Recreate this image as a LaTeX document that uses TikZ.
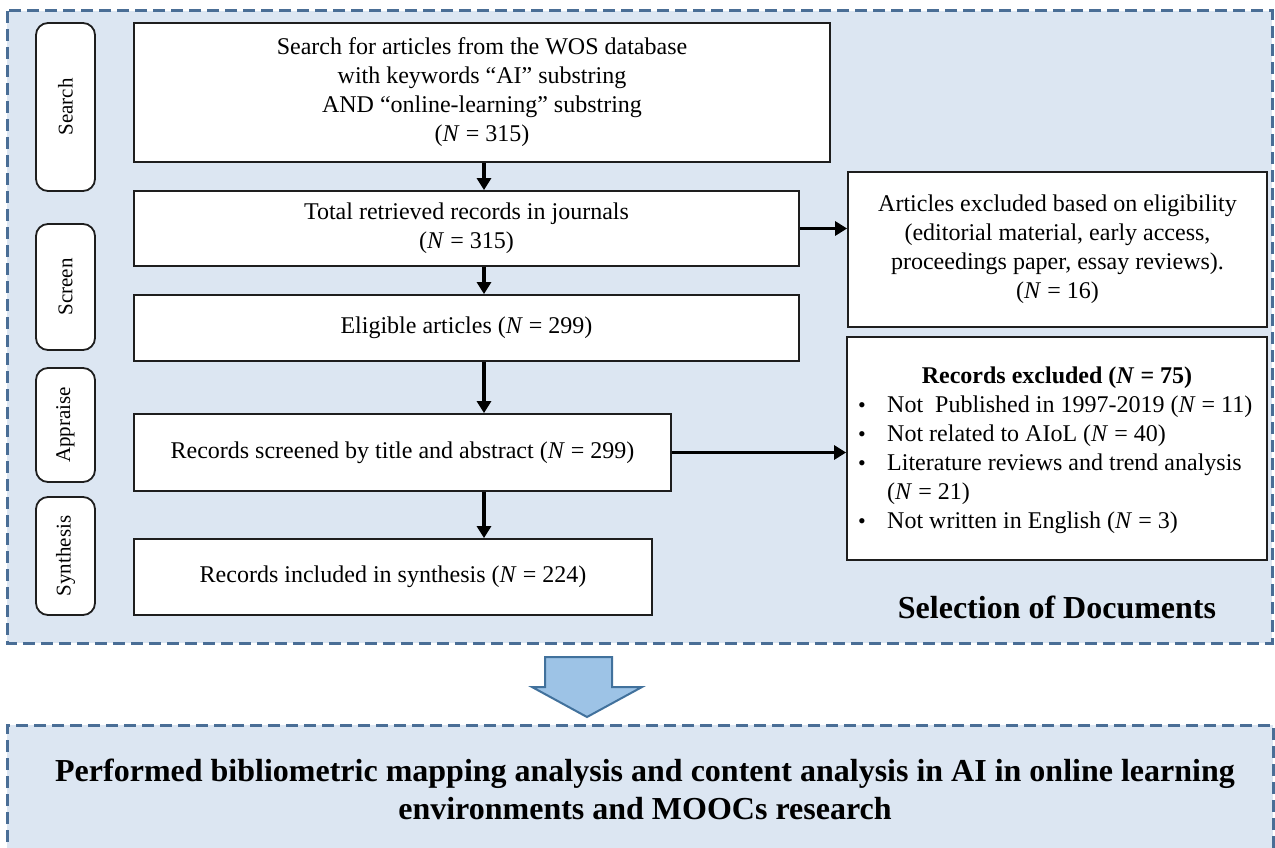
\documentclass[tikz,border=0pt]{standalone}
\usepackage{fontspec}
\setmainfont{Liberation Serif}
\usetikzlibrary{arrows.meta}
\definecolor{panelfill}{HTML}{DCE6F2}
\definecolor{dashcol}{HTML}{4A6E96}
\definecolor{bigarrowfill}{HTML}{9DC3E6}
\definecolor{bigarrowdraw}{HTML}{41719C}
\definecolor{boxline}{HTML}{1E1E1E}
\tikzset{
  dashbox/.style={draw=dashcol, line width=3pt, dash pattern=on 12pt off 6pt},
  box/.style={draw=boxline, fill=white, line width=1.8pt, inner sep=0pt, align=center,
    font=\fontsize{24}{29}\selectfont},
  stage/.style={draw=boxline, fill=white, line width=1.8pt, rounded corners=12pt, inner sep=0pt,
    rotate=90, minimum height=59pt, font=\fontsize{21}{25}\selectfont},
  arr/.style={draw=black, line width=3.8pt, -{Triangle[length=12pt,width=14pt]}},
  plain/.style={inner sep=0pt, font=\fontsize{24}{29}\selectfont},
  bullet/.style={inner sep=0pt, font=\fontsize{22}{24}\selectfont},
}
\begin{document}
\begin{tikzpicture}[x=1pt,y=-1pt]
\useasboundingbox (0,0) rectangle (1275,848);
\fill[white] (0,0) rectangle (1275,848);
% panels
\fill[panelfill] (7,11) rectangle (1272,643);
\draw[dashbox] (7,11) rectangle (1272,643);
\fill[panelfill] (7,725) rectangle (1273,848);
\begin{scope}
\clip (0,0) rectangle (1275,848);
\draw[dashbox] (7,860) -- (7,725) -- (1273,725) -- (1273,860);
\end{scope}
% stage labels
\node[stage, minimum width=168pt] (sSearch) at (65.5,107) {Search};
\node[stage, minimum width=126pt] (sScreen) at (65.5,287) {Screen};
\node[stage, minimum width=114pt] (sAppraise) at (65.5,425) {Appraise};
\node[stage, minimum width=118pt] (sSynth) at (65.5,556) {Synthesis};
% main boxes
\node[box, minimum width=696pt, minimum height=139pt] (search) at (482,92.5)
  {Search for articles from the WOS database\\with keywords “AI” substring\\AND “online-learning” substring\\(\textit{N} = 315)};
\node[box, minimum width=665pt, minimum height=75pt] (total) at (466.5,228.5)
  {Total retrieved records in journals\\(\textit{N} = 315)};
\node[box, minimum width=665pt, minimum height=66pt] (elig) at (466.5,328)
  {Eligible articles (\textit{N} = 299)};
\node[box, minimum width=537pt, minimum height=77pt] (screened) at (402.5,452.5)
  {Records screened by title and abstract (\textit{N} = 299)};
\node[box, minimum width=518pt, minimum height=76pt] (incl) at (393,577)
  {Records included in synthesis (\textit{N} = 224)};
\node[box, minimum width=419pt, minimum height=155pt] (artexcl) at (1057.5,249.5)
  {Articles excluded based on eligibility\\(editorial material, early access,\\proceedings paper, essay reviews).\\(\textit{N} = 16)};
\node[box, minimum width=420pt, minimum height=223pt] (recexcl) at (1057,448.5) {};
% records excluded content
\node[plain, font=\fontsize{24}{29}\selectfont\bfseries] (rh) at (1057,378) {Records excluded (\textit{N} = 75)};
\node[bullet] (b1) at (862,408) {•};
\node[plain, anchor=west] (t1) at (887,407) {Not\ \ Published in 1997-2019 (\textit{N} = 11)};
\node[bullet] (b2) at (862,437) {•};
\node[plain, anchor=west] (t2) at (887,436) {Not related to AIoL (\textit{N} = 40)};
\node[bullet] (b3) at (862,466) {•};
\node[plain, anchor=west] (t3) at (887,465) {Literature reviews and trend analysis};
\node[plain, anchor=west] (t3b) at (887,494) {(\textit{N} = 21)};
\node[bullet] (b4) at (862,524) {•};
\node[plain, anchor=west] (t4) at (887,523) {Not written in English (\textit{N} = 3)};
% title
\node[inner sep=0pt, font=\fontsize{32}{36}\selectfont\bfseries] (sel) at (1057,607) {Selection of Documents};
% connectors
\coordinate (ax) at (484,0);
\draw[arr] (search.south -| ax) -- (total.north -| ax);
\draw[arr] (total.south -| ax) -- (elig.north -| ax);
\draw[arr] (elig.south -| ax) -- (screened.north -| ax);
\draw[arr] (screened.south -| ax) -- (incl.north -| ax);
\draw[arr] (total.east) -- (artexcl.west |- total.east);
\draw[arr] (screened.east) -- (recexcl.west |- screened.east);
% big arrow
\draw[fill=bigarrowfill, draw=bigarrowdraw, line width=2pt, line join=miter]
  (545,657) -- (612,657) -- (612,687) -- (642,687) -- (587,717) -- (532,687) -- (545,687) -- cycle;
% bottom text
\node[inner sep=0pt, align=center, font=\fontsize{32}{38}\selectfont\bfseries] (perf) at (645,789)
  {Performed bibliometric mapping analysis and content analysis in AI in online learning\\environments and MOOCs research};
\end{tikzpicture}
\end{document}
